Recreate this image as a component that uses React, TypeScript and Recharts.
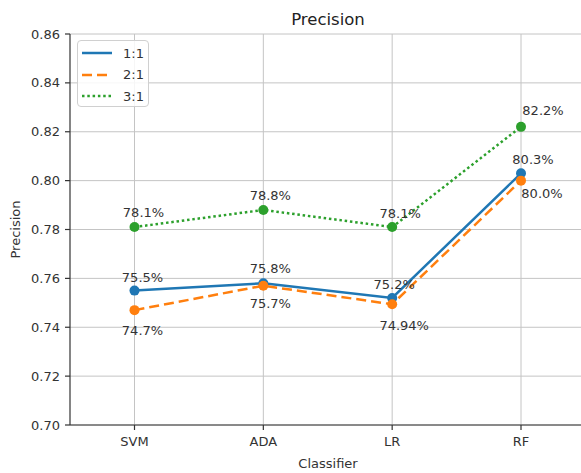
import { CartesianGrid, LabelList, Line, LineChart, ReferenceLine, XAxis, YAxis } from "recharts";

const classifiers = ["SVM", "ADA", "LR", "RF"];
const ratio11 = [0.755, 0.758, 0.752, 0.803];
const ratio21 = [0.747, 0.757, 0.7494, 0.8];
const ratio31 = [0.781, 0.788, 0.781, 0.822];
const yTicks = [0.7, 0.72, 0.74, 0.76, 0.78, 0.8, 0.82, 0.84, 0.86];

const data = classifiers.map((name, i) => ({
    name,
    r11: ratio11[i],
    r21: ratio21[i],
    r31: ratio31[i],
}));

const FONT = "'DejaVu Sans', sans-serif";
const TEXT = "#333";
const GRID = "#c4c4c4";
// the plot runs past the right edge of the frame
const PAD = { left: 64.5, right: 99 };
const AXIS_SPAN = 516;

const series = [
    { key: "r11", label: "1:1", color: "#1f77b4", dash: undefined as string | undefined },
    { key: "r21", label: "2:1", color: "#ff7f0e", dash: "10 5" },
    { key: "r31", label: "3:1", color: "#2ca02c", dash: "2.5 2.8" },
];

// annotation offsets (dx, dy to baseline) per series and point
const labelOffsets: Record<string, number[][]> = {
    r11: [[8, -9], [7, -10], [2, -9], [12, -9]],
    r21: [[8, 25], [7, 22], [12, 26], [21, 17]],
    r31: [[9, -10], [7, -9.5], [8, -9], [22, -12]],
};

const pct = (v: number) => {
    const s = (Math.round(v * 10000) / 100).toString();
    return (s.includes(".") ? s : s + ".0") + "%";
};

const makeLabel = (key: string) => (props: any) => {
    const { x, y, value, index } = props;
    const [dx, dy] = labelOffsets[key][index];
    return (
        <text x={x + dx} y={y + dy} textAnchor="middle" fontSize={13} fontFamily={FONT} fill={TEXT}>
            {pct(value)}
        </text>
    );
};

const PrecisionChart = () => {
    return (
        <div style={{ position: "absolute", left: 0, top: 0, width: 581, height: 473, overflow: "hidden", background: "#fff" }}>
            <div
                style={{
                    position: "absolute",
                    left: 70,
                    width: AXIS_SPAN,
                    top: 10,
                    lineHeight: "20px",
                    textAlign: "center",
                    fontFamily: FONT,
                    fontSize: 16.5,
                    color: "#222",
                }}
            >
                Precision
            </div>
            <LineChart width={660} height={473} data={data} margin={{ top: 34, right: 40, left: 0, bottom: 0 }}>
                <CartesianGrid stroke={GRID} strokeWidth={1} vertical={false} />
                {classifiers.map((c) => (
                    <ReferenceLine key={c} x={c} stroke={GRID} strokeWidth={1} />
                ))}
                <XAxis
                    dataKey="name"
                    height={48}
                    padding={PAD}
                    stroke={TEXT}
                    strokeWidth={1.2}
                    tickSize={5}
                    tickMargin={7}
                    tick={{ fontSize: 13, fontFamily: FONT, fill: TEXT }}
                    label={{
                        content: (p: any) => {
                            const vb = p.viewBox;
                            return (
                                <text x={vb.x + AXIS_SPAN / 2} y={468} textAnchor="middle" fontSize={13} fontFamily={FONT} fill={TEXT}>
                                    Classifier
                                </text>
                            );
                        },
                    }}
                />
                {/* top spine */}
                <XAxis
                    xAxisId="top"
                    orientation="top"
                    dataKey="name"
                    height={0}
                    padding={PAD}
                    stroke={TEXT}
                    strokeWidth={1.2}
                    tick={false}
                    tickLine={false}
                />
                <YAxis
                    width={70}
                    domain={[0.7, 0.86]}
                    ticks={yTicks}
                    tickFormatter={(v: number) => v.toFixed(2)}
                    stroke={TEXT}
                    strokeWidth={1.2}
                    tickSize={5}
                    tickMargin={5}
                    tick={{ fontSize: 13, fontFamily: FONT, fill: TEXT }}
                    label={{
                        content: (p: any) => {
                            const vb = p.viewBox;
                            const cy = vb.y + vb.height / 2;
                            return (
                                <text
                                    x={15}
                                    y={cy}
                                    transform={`rotate(-90 15 ${cy})`}
                                    textAnchor="middle"
                                    dominantBaseline="central"
                                    fontSize={13}
                                    fontFamily={FONT}
                                    fill={TEXT}
                                >
                                    Precision
                                </text>
                            );
                        },
                    }}
                />
                {series.map((s) => (
                    <Line
                        key={s.key}
                        type="linear"
                        dataKey={s.key}
                        name={s.label}
                        stroke={s.color}
                        strokeWidth={2.5}
                        strokeDasharray={s.dash}
                        dot={{ r: 5, fill: s.color, stroke: s.color, strokeWidth: 0, strokeDasharray: "0" }}
                        activeDot={false}
                        isAnimationActive={false}
                    >
                        <LabelList dataKey={s.key} content={makeLabel(s.key)} />
                    </Line>
                ))}
            </LineChart>
            <div
                style={{
                    position: "absolute",
                    left: 77,
                    top: 40,
                    width: 72,
                    height: 67,
                    boxSizing: "border-box",
                    border: "1px solid #d0d0d0",
                    borderRadius: 4,
                    background: "rgba(255,255,255,0.85)",
                    fontFamily: FONT,
                    fontSize: 13,
                    color: TEXT,
                }}
            >
                {series.map((s, i) => (
                    <div key={s.key} style={{ position: "absolute", left: 4, top: 3 + i * 21.5, height: 18, display: "flex", alignItems: "center" }}>
                        <svg width={30} height={10}>
                            <line x1={0} y1={5} x2={30} y2={5} stroke={s.color} strokeWidth={2.5} strokeDasharray={s.dash} />
                        </svg>
                        <span style={{ marginLeft: 11 }}>{s.label}</span>
                    </div>
                ))}
            </div>
        </div>
    );
};

export default function App() {
    return <PrecisionChart />;
}
